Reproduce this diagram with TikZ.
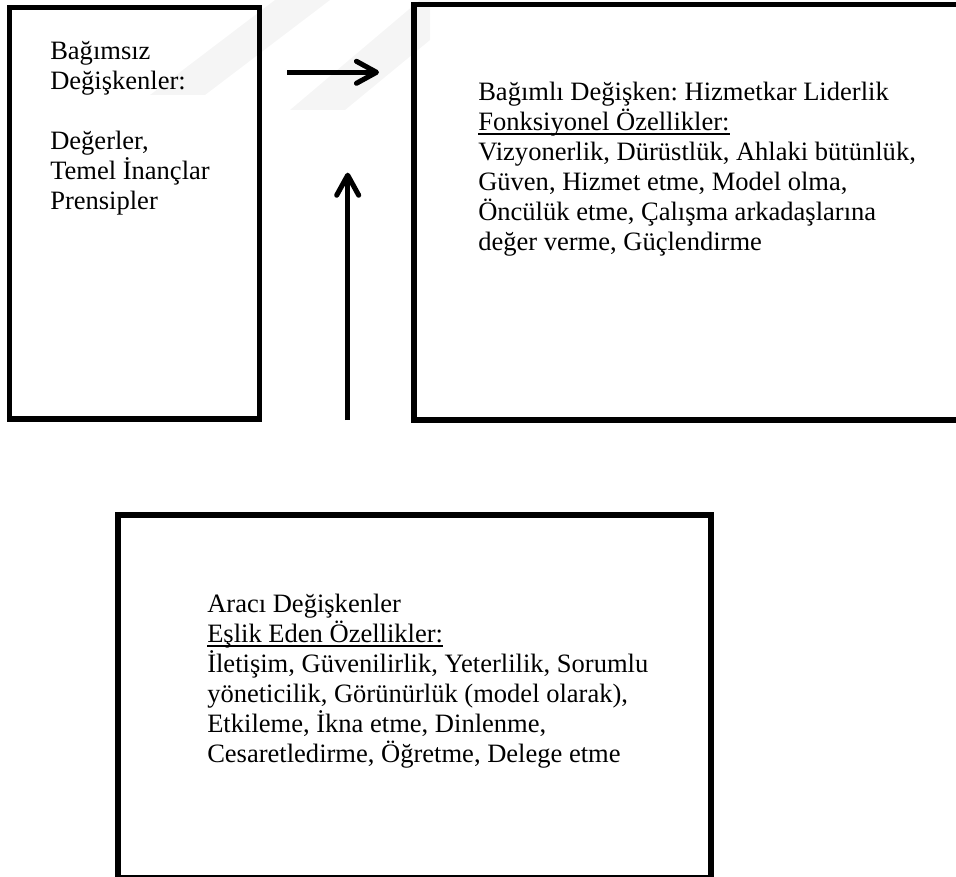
\documentclass[tikz,border=0pt]{standalone}
\usepackage{fontspec}
\setmainfont{Liberation Serif}
\usetikzlibrary{arrows.meta,fit}
\frenchspacing
% underline drawn through the descenders, as a word processor does
\newcommand\ulword[1]{\leavevmode\setbox0\hbox{#1}\rlap{\rule[-3.2pt]{\wd0}{1.4pt}}\box0}
\begin{document}
\begin{tikzpicture}[x=0.75pt,y=-0.75pt,
  frame/.style={draw=black,line width=4.1pt,inner sep=0pt},
  flow/.style={line width=3.8pt,-{Straight Barb[length=15pt,width=16.5pt,round]}},
  label/.style={anchor=base west,inner sep=0pt,
    font=\fontsize{19.9pt}{22.5pt}\selectfont},
  wmark/.style={fill=black!4,draw=none}]
\useasboundingbox (0,0) rectangle (956,877);
\clip (0,0) rectangle (956,877);

% faint background watermark
\fill[wmark] (150,95) -- (205,95) -- (330,0) -- (275,0) -- cycle;
\fill[wmark] (290,110) -- (345,110) -- (430,40) -- (430,0) -- (420,0) -- cycle;

% boxes
\node[frame,fit={(9.5,7.5) (259.5,419)}] (indep) {};
\node[frame,fit={(414,4.5) (985,420)}] (dep) {};
\node[frame,fit={(118,515) (711,878)}] (medi) {};

% texts
\node[label] (indeptext) at (50,59.3) {\parbox[t]{300pt}{\raggedright
  Bağımsız\\Değişkenler:\\\mbox{}\\Değerler,\\Temel İnançlar\\Prensipler}};
\node[label] (deptext) at (478,101) {\parbox[t]{400pt}{\raggedright
  Bağımlı Değişken: Hizmetkar Liderlik\\
  \ulword{Fonksiyonel Özellikler:}\\
  Vizyonerlik, Dürüstlük, Ahlaki bütünlük,\\
  Güven, Hizmet etme, Model olma,\\
  Öncülük etme, Çalışma arkadaşlarına\\
  değer verme, Güçlendirme}};
\node[label] (meditext) at (207,612.5) {\parbox[t]{400pt}{\raggedright
  Aracı Değişkenler\\
  \ulword{Eşlik Eden Özellikler:}\\
  İletişim, Güvenilirlik, Yeterlilik, Sorumlu\\
  yöneticilik, Görünürlük (model olarak),\\
  Etkileme, İkna etme, Dinlenme,\\
  Cesaretledirme, Öğretme, Delege etme}};

% connectors
\coordinate (h0) at (287,72.3);
\coordinate (h1) at (379,72.3);
\coordinate (v0) at (347.7,420);
\coordinate (v1) at (347.7,172.7);
\draw[flow] (h0) -- (h1);
\draw[flow] (v0) -- (v1);
\end{tikzpicture}
\end{document}
